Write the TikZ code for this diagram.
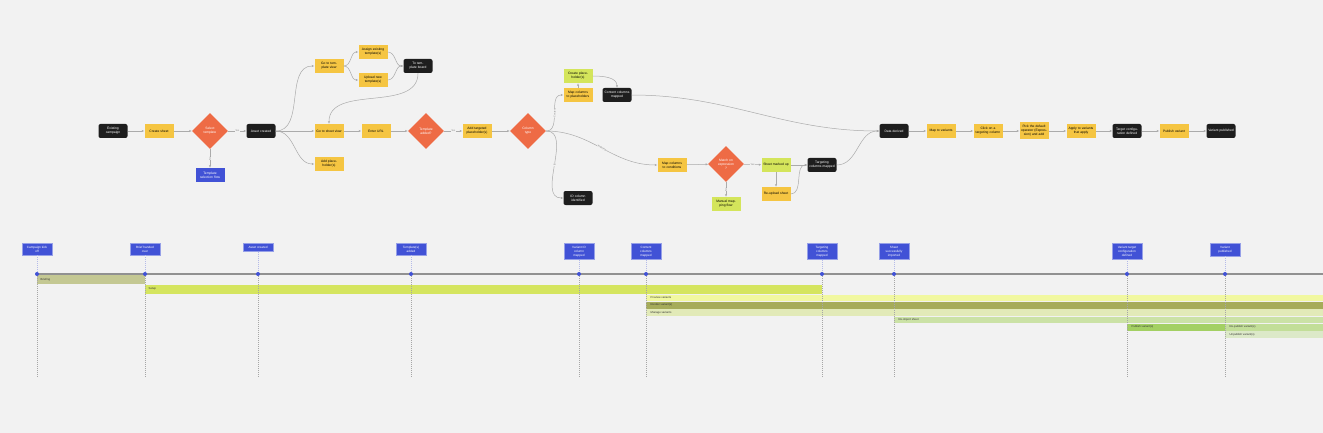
\documentclass[tikz,border=0pt]{standalone}
\usepackage{fontspec}
\setmainfont{Liberation Sans}
\usepackage{xcolor}
\usetikzlibrary{arrows.meta,positioning,shapes.geometric}
\definecolor{bg}{HTML}{F2F2F2}
\definecolor{blk}{HTML}{1E1E1E}
\definecolor{yel}{HTML}{F5C542}
\definecolor{org}{HTML}{EE6B45}
\definecolor{blu}{HTML}{4152D6}
\definecolor{grn}{HTML}{D4E55B}
\definecolor{lnk}{HTML}{ABABAB}
\definecolor{cBrief}{HTML}{C4C893}
\definecolor{cSetup}{HTML}{D5E55F}
\definecolor{cPrev}{HTML}{F1F8A0}
\definecolor{cRend}{HTML}{A6AC5A}
\definecolor{cMan}{HTML}{E2EAB8}
\definecolor{cReim}{HTML}{CBE2A6}
\definecolor{cPub}{HTML}{A3D063}
\definecolor{cRepub}{HTML}{C2DE98}
\definecolor{cUnpub}{HTML}{DCE9C8}

\begin{document}
\begin{tikzpicture}[
  x=1pt, y=1pt,
  every node/.style={align=center, font=\fontsize{3.3}{3.9}\selectfont, inner sep=0.5pt},
  ar/.style={-{Latex[length=2.4pt,width=2.2pt]}, draw=lnk, line width=0.5pt},
  lbl/.style={font=\fontsize{2.4}{2.8}\selectfont, text=gray, fill=bg, inner sep=0.3pt},
  blkbox/.style={fill=blk, text=white, rounded corners=2pt, minimum width=29pt, minimum height=14pt, text width=26pt},
  yelbox/.style={fill=yel, minimum width=29pt, minimum height=14pt, text width=26pt},
  grnbox/.style={fill=grn, minimum width=29pt, minimum height=14pt, text width=26pt},
  blubox/.style={fill=blu, text=white, minimum width=29pt, minimum height=14pt, text width=26pt},
  dec/.style={diamond, fill=org, text=white, minimum width=36pt, minimum height=36pt, inner sep=0pt, text width=18pt},
  ms/.style={fill=blu, draw=blu!55!white, line width=0.5pt, text=white, minimum width=30pt, anchor=north, inner ysep=2.9pt,
    font=\fontsize{3.1}{3.9}\selectfont},
  tline/.style={draw=black!40!bg, line width=1.6pt},
  stem/.style={draw=blu!35!bg, line width=0.35pt, dash pattern=on 1pt off 1pt},
  drop/.style={draw=black!35, line width=0.35pt, dash pattern=on 1pt off 1pt},
  bartxt/.style={anchor=west, font=\fontsize{2.8}{3.2}\selectfont, text=black!80}
]
\fill[bg] (0,0) rectangle (1323,-433);
\useasboundingbox (0,0) rectangle (1323,-433);

% flow
\node[blkbox] (start)  at (113,-131) {Existing campaign};
\node[yelbox] (sheet)  at (159,-131) {Create sheet};
\node[dec]    (tpl)    at (210,-131) {Select\\template};
\node[blubox] (tflow)  at (210,-175) {Template selection flow};
\node[blkbox] (asset)  at (261,-131) {Asset created};
\node[yelbox] (tview)  at (329,-66)  {Go to template view};
\node[yelbox] (assign) at (373,-52)  {Assign existing template(s)};
\node[yelbox] (upload) at (373,-80)  {Upload new template(s)};
\node[blkbox] (board)  at (418,-66)  {To template board};
\node[yelbox] (sview)  at (329,-131) {Go to sheet view};
\node[yelbox] (url)    at (376,-131) {Enter URL};
\node[dec]    (added)  at (426,-131) {Template\\added?};
\node[yelbox] (ph)     at (329,-164) {Add placeholder(s)};
\node[yelbox] (tph)    at (477,-131) {Add targeted placeholder(s)};
\node[dec]    (ctype)  at (528,-131) {Column\\type};
\node[grnbox] (cph)    at (578,-76)  {Create placeholder(s)};
\node[yelbox] (mapph)  at (578,-95)  {Map columns to placeholders};
\node[blkbox] (cmap)   at (617,-95)  {Content columns mapped};
\node[blkbox] (idcol)  at (578,-198) {ID column identified};
\node[yelbox] (mapct)  at (672,-165) {Map columns to conditions};
\node[dec]    (expr)   at (726,-164) {Match on\\expression\\?};
\node[grnbox] (marked) at (776,-165) {Sheet marked up};
\node[yelbox] (reup)   at (776,-194) {Re-upload sheet};
\node[grnbox] (manual) at (726,-204) {Manual mapping flow};
\node[blkbox] (tmap)   at (822,-165) {Targeting columns mapped};
\node[blkbox] (data)   at (894,-131) {Data derived};
\node[yelbox] (mapv)   at (941,-131) {Map to variants};
\node[yelbox] (click)  at (988,-131) {Click on a targeting column};
\node[yelbox, minimum height=17pt] (oper) at (1034,-131) {Pick the default operator (Expression) and add};
\node[yelbox] (apply)  at (1081,-131) {Apply to variants that apply};
\node[blkbox] (vtc)    at (1127,-131) {Target configuration defined};
\node[yelbox] (pub)    at (1174,-131) {Publish variant};
\node[blkbox] (vpub)   at (1221,-131) {Variant published};

\draw[ar] (start) -- (sheet);
\draw[ar] (sheet) -- (tpl);
\draw[ar] (tpl) -- node[lbl] {Yes} (asset);
\draw[ar] (tpl) -- node[lbl, rotate=90] {No} (tflow);
\draw[ar] (asset.east) to[out=0, in=180] (tview.west);
\draw[ar] (asset) -- (sview);
\draw[ar] (asset.east) to[out=0, in=180] (ph.west);
\draw[ar] (tview.east) to[out=0, in=180] (assign.west);
\draw[ar] (tview.east) to[out=0, in=180] (upload.west);
\draw[ar] (assign.east) to[out=0, in=180] (board.west);
\draw[ar] (upload.east) to[out=0, in=180] (board.west);
\draw[ar] (board.south) to[out=-90, in=90] (sview.north);
\draw[ar] (sview) -- (url);
\draw[ar] (url) -- (added);
\draw[ar] (added) -- node[lbl] {Yes} (tph);
\draw[ar] (tph) -- (ctype);
\draw[ar] (ctype.east) to[out=0, in=180] node[lbl, sloped] {Content} (mapph.west);
\draw[ar] (ctype.east) to[out=0, in=180] node[lbl, sloped] {ID} (idcol.west);
\draw[ar] (ctype.east) to[out=0, in=180] node[lbl, sloped] {Targeting} (mapct.west);
\draw[ar] (mapph) -- (cph);
\draw[ar] (cph.east) to[out=0, in=90] (cmap.north);
\draw[ar] (cmap.east) to[out=0, in=180] (data.west);
\draw[ar] (mapct) -- (expr);
\draw[ar] (expr) -- node[lbl] {Yes} (marked);
\draw[ar] (expr) -- node[lbl, rotate=90] {No} (manual);
\draw[ar] (marked) -- (reup);
\draw[ar] (marked) -- (tmap);
\draw[ar] (reup.east) to[out=0, in=180] (tmap.west);
\draw[ar] (tmap.east) to[out=0, in=180] (data.west);
\draw[ar] (data) -- (mapv);
\draw[ar] (mapv) -- (click);
\draw[ar] (click) -- (oper);
\draw[ar] (oper) -- (apply);
\draw[ar] (apply) -- (vtc);
\draw[ar] (vtc) -- (pub);
\draw[ar] (pub) -- (vpub);

% timeline
\coordinate (tl0) at (37,-274);
\coordinate (tl1) at (1323,-274);
\draw[tline] (tl0) -- (tl1);

\node[ms] (m1)  at (37,-243)   {Campaign kick\\off};
\node[ms] (m2)  at (145,-243)  {Brief handed\\over};
\node[ms] (m3)  at (258,-243)  {Asset created};
\node[ms] (m4)  at (411,-243)  {Template(s)\\added};
\node[ms] (m5)  at (579,-243)  {Variant ID\\column\\mapped};
\node[ms] (m6)  at (646,-243)  {Content\\columns\\mapped};
\node[ms] (m7)  at (822,-243)  {Targeting\\columns\\mapped};
\node[ms] (m8)  at (894,-243)  {Sheet\\successfully\\imported};
\node[ms] (m9)  at (1127,-243) {Variant target\\configuration\\defined};
\node[ms] (m10) at (1225,-243) {Variant\\published};

% bars
\fill[cBrief] (37,-275) rectangle (145,-284);
\fill[cSetup] (145,-284.5) rectangle (822,-294);
\fill[cPrev]  (646,-294.5) rectangle (1323,-301);
\fill[cRend]  (646,-301.5) rectangle (1323,-308.5);
\fill[cMan]   (646,-309) rectangle (1323,-316);
\fill[cReim]  (894,-316.5) rectangle (1323,-323);
\fill[cPub]   (1127,-323.5) rectangle (1225,-330.5);
\fill[cRepub] (1225,-323.5) rectangle (1323,-330.5);
\fill[cUnpub] (1225,-331) rectangle (1323,-338);
\node[bartxt] (b1) at (40,-279.5)    {Briefing};
\node[bartxt] (b2) at (148,-289.2)   {Setup};
\node[bartxt] (b3) at (650,-297.7)   {Preview variants};
\node[bartxt] (b4) at (650,-305)     {Render variant(s)};
\node[bartxt] (b5) at (650,-312.5)   {Manage variants};
\node[bartxt] (b6) at (898,-319.7)   {Re-import sheet};
\node[bartxt] (b7) at (1131,-327)    {Publish variant(s)};
\node[bartxt] (b8) at (1229,-327)    {Re-publish variant(s)};
\node[bartxt] (b9) at (1229,-334.5)  {Unpublish variant(s)};

% stems and drop lines
\coordinate (d1)  at (37,-274);   \coordinate (e1)  at (37,-378);
\coordinate (d2)  at (145,-274);  \coordinate (e2)  at (145,-378);
\coordinate (d3)  at (258,-274);  \coordinate (e3)  at (258,-378);
\coordinate (d4)  at (411,-274);  \coordinate (e4)  at (411,-378);
\coordinate (d5)  at (579,-274);  \coordinate (e5)  at (579,-378);
\coordinate (d6)  at (646,-274);  \coordinate (e6)  at (646,-378);
\coordinate (d7)  at (822,-274);  \coordinate (e7)  at (822,-378);
\coordinate (d8)  at (894,-274);  \coordinate (e8)  at (894,-378);
\coordinate (d9)  at (1127,-274); \coordinate (e9)  at (1127,-378);
\coordinate (d10) at (1225,-274); \coordinate (e10) at (1225,-378);
\draw[stem] (m1) -- (d1);   \draw[drop] (d1) -- (e1);
\draw[stem] (m2) -- (d2);   \draw[drop] (d2) -- (e2);
\draw[stem] (m3) -- (d3);   \draw[drop] (d3) -- (e3);
\draw[stem] (m4) -- (d4);   \draw[drop] (d4) -- (e4);
\draw[stem] (m5) -- (d5);   \draw[drop] (d5) -- (e5);
\draw[stem] (m6) -- (d6);   \draw[drop] (d6) -- (e6);
\draw[stem] (m7) -- (d7);   \draw[drop] (d7) -- (e7);
\draw[stem] (m8) -- (d8);   \draw[drop] (d8) -- (e8);
\draw[stem] (m9) -- (d9);   \draw[drop] (d9) -- (e9);
\draw[stem] (m10) -- (d10); \draw[drop] (d10) -- (e10);
\fill[blu] (d1) circle (2pt) (d2) circle (2pt) (d3) circle (2pt) (d4) circle (2pt) (d5) circle (2pt)
  (d6) circle (2pt) (d7) circle (2pt) (d8) circle (2pt) (d9) circle (2pt) (d10) circle (2pt);
\end{tikzpicture}
\end{document}
